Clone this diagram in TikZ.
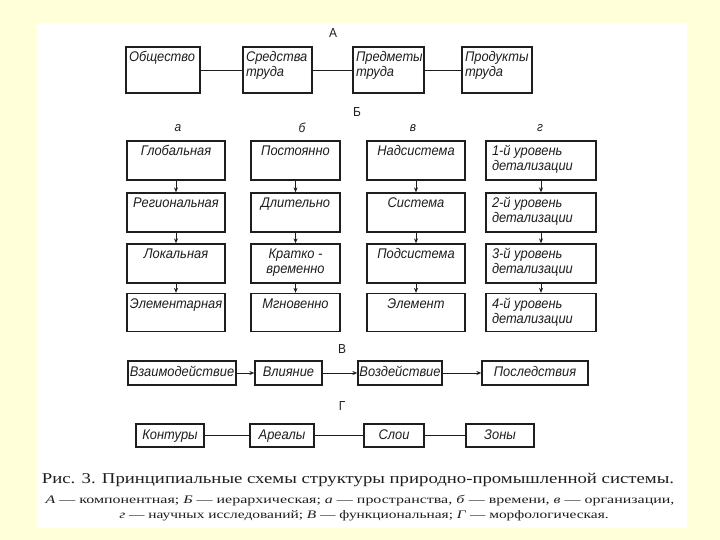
\documentclass[tikz,border=0pt]{standalone}
\usepackage{fontspec}
\setmainfont{Liberation Serif}
\newfontfamily\drafont[FakeStretch=0.92]{Liberation Sans}
\usetikzlibrary{arrows.meta}
\definecolor{bgyellow}{RGB}{255,255,217}
\definecolor{ink}{RGB}{30,30,30}
\newcommand\bt[3]{\parbox[c][#2][t]{#1}{\vspace*{4pt}\strut#3}}
\begin{document}
\begin{tikzpicture}[x=1pt,y=-1pt,
  every node/.style={text=ink},
  bx/.style={draw=ink, line width=1.3pt, inner sep=0pt, font=\drafont\itshape\fontsize{14}{15}\selectfont},
  sbx/.style={draw=ink, line width=1.3pt, inner sep=0pt, font=\drafont\itshape\fontsize{14}{15}\selectfont, minimum height=#1, text height=10pt, text depth=3pt},
  lbl/.style={font=\drafont\fontsize{13}{14}\selectfont},
  ilbl/.style={font=\drafont\itshape\fontsize{13}{14}\selectfont},
  conn/.style={draw=ink, line width=0.8pt},
  arr/.style={draw=ink, line width=0.8pt, -{Stealth[length=5pt,width=4pt]}},
  cap/.style={font=\fontsize{#1}{#1}\selectfont, inner sep=0pt}
]
\useasboundingbox (0,0) rectangle (720,540);
\fill[bgyellow] (0,0) rectangle (720,540);
\fill[white] (37,23) rectangle (687,528);

% Section A
\node[lbl] (lA) at (333,33) {А};
\node[bx] (t1) at (163,70) {\bt{74pt}{46pt}{\hspace*{3pt}Общество}};
\node[bx] (t2) at (277.5,70) {\bt{69pt}{46pt}{\hspace*{3pt}Средства\\\hspace*{3pt}труда}};
\node[bx] (t3) at (388.5,70) {\bt{71pt}{46pt}{\hspace*{3pt}Предметы\\\hspace*{3pt}труда}};
\node[bx] (t4) at (497,70) {\bt{70pt}{46pt}{\hspace*{3pt}Продукты\\\hspace*{3pt}труда}};
\draw[conn] (t1) -- (t2);
\draw[conn] (t2) -- (t3);
\draw[conn] (t3) -- (t4);

% Section B
\node[lbl] (lB) at (357,112) {Б};
\node[ilbl] (la) at (178,128) {а};
\node[ilbl] (lb) at (302,128) {б};
\node[ilbl] (lv) at (413,128) {в};
\node[ilbl] (lg) at (540,128) {г};

\node[bx] (a1) at (176,160.5) {\bt{98pt}{39pt}{\centering Глобальная}};
\node[bx] (a2) at (176,212.5) {\bt{98pt}{39pt}{\centering Региональная}};
\node[bx] (a3) at (176,263.5) {\bt{98pt}{39pt}{\centering Локальная}};
\node[bx] (a4) at (176,312.5) {\bt{98pt}{38pt}{\centering Элементарная}};

\node[bx] (b1) at (295.5,160.5) {\bt{89pt}{39pt}{\centering Постоянно}};
\node[bx] (b2) at (295.5,212.5) {\bt{89pt}{39pt}{\centering Длительно}};
\node[bx] (b3) at (295.5,263.5) {\bt{89pt}{39pt}{\centering Кратко -\\временно}};
\node[bx] (b4) at (295.5,312.5) {\bt{89pt}{38pt}{\centering Мгновенно}};

\node[bx] (v1) at (416,160.5) {\bt{98pt}{39pt}{\centering Надсистема}};
\node[bx] (v2) at (416,212.5) {\bt{98pt}{39pt}{\centering Система}};
\node[bx] (v3) at (416,263.5) {\bt{98pt}{39pt}{\centering Подсистема}};
\node[bx] (v4) at (416,312.5) {\bt{98pt}{38pt}{\centering Элемент}};

\node[bx] (g1) at (541,160.5) {\bt{110pt}{39pt}{\hspace*{6pt}1-й уровень\\\hspace*{6pt}детализации}};
\node[bx] (g2) at (541,212.5) {\bt{110pt}{39pt}{\hspace*{6pt}2-й уровень\\\hspace*{6pt}детализации}};
\node[bx] (g3) at (541,263.5) {\bt{110pt}{39pt}{\hspace*{6pt}3-й уровень\\\hspace*{6pt}детализации}};
\node[bx] (g4) at (541,312.5) {\bt{110pt}{38pt}{\hspace*{6pt}4-й уровень\\\hspace*{6pt}детализации}};

\foreach \c in {a,b,v,g}{
  \draw[arr] (\c1) -- (\c2);
  \draw[arr] (\c2) -- (\c3);
  \draw[arr] (\c3) -- (\c4);
}

% Section V
\node[lbl] (lV) at (342,349) {В};
\node[sbx=24pt, minimum width=108pt] (f1) at (182,373) {Взаимодействие};
\node[sbx=24pt, minimum width=67pt] (f2) at (288.5,373) {Влияние};
\node[sbx=24pt, minimum width=84pt] (f3) at (400,373) {Воздействие};
\node[sbx=24pt, minimum width=106pt] (f4) at (535,373) {Последствия};
\draw[arr] (f1) -- (f2);
\draw[arr] (f2) -- (f3);
\draw[arr] (f3) -- (f4);

% Section G
\node[lbl] (lG) at (342,406) {Г};
\node[sbx=23pt, minimum width=68pt] (m1) at (170,435.5) {Контуры};
\node[sbx=23pt, minimum width=64pt] (m2) at (282,435.5) {Ареалы};
\node[sbx=23pt, minimum width=60pt] (m3) at (394,435.5) {Слои};
\node[sbx=23pt, minimum width=68pt] (m4) at (500,435.5) {Зоны};
\draw[conn] (m1) -- (m2);
\draw[conn] (m2) -- (m3);
\draw[conn] (m3) -- (m4);

% Caption
\node[cap=15] (c1) at (358,480) {\scalebox{1.25}[1]{Рис. 3. Принципиальные схемы структуры природно-промышленной системы.}};
\node[cap=11.5] (c2) at (360,501) {\scalebox{1.39}[1]{\textit{А} — компонентная; \textit{Б} — иерархическая; \textit{а} — пространства, \textit{б} — времени, \textit{в} — организации,}};
\node[cap=11.5] (c3) at (364,516) {\scalebox{1.34}[1]{\textit{г} — научных исследований; \textit{В} — функциональная; \textit{Г} — морфологическая.}};
\end{tikzpicture}
\end{document}
